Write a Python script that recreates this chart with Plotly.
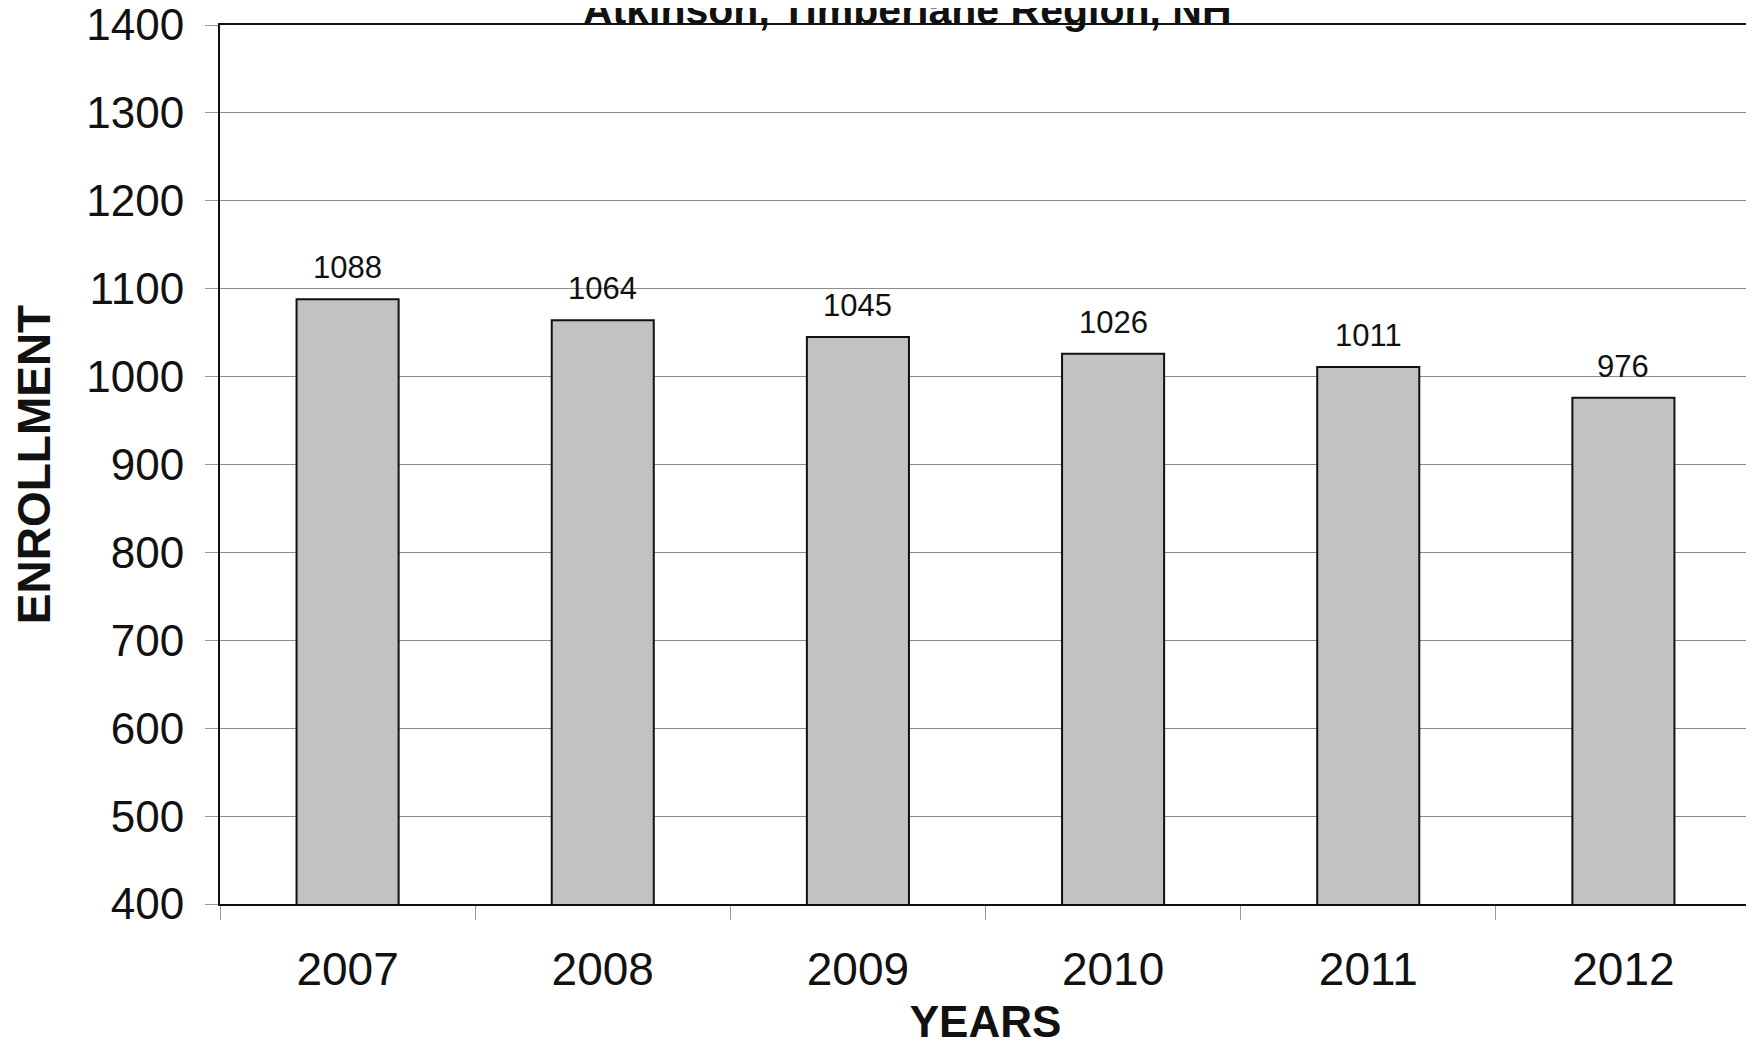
import plotly.graph_objects as go

years = ["2007", "2008", "2009", "2010", "2011", "2012"]
enrollment = [1088, 1064, 1045, 1026, 1011, 976]
y_ticks = [400, 500, 600, 700, 800, 900, 1000, 1100, 1200, 1300, 1400]
title_text = "Atkinson, Timberlane Region, NH"

FONT = "Arial, Liberation Sans, sans-serif"

fig = go.Figure()
fig.add_trace(go.Bar(
    x=years, y=enrollment, width=0.4,
    marker=dict(color="#c2c2c2", line=dict(color="#111111", width=2)),
    hoverinfo="skip",
))

for i, v in enumerate(enrollment):
    fig.add_annotation(x=i, y=v, xref="x", yref="y", text=str(v),
                       showarrow=False, yanchor="bottom", yshift=12,
                       font=dict(family=FONT, size=31, color="#111111"))

fig.add_annotation(x=0.449, y=1, xref="paper", yref="paper",
                   text="<b>" + title_text + "</b>", showarrow=False,
                   xanchor="center", yanchor="bottom", yshift=-10,
                   font=dict(family=FONT, size=41, color="#111111"))

fig.update_layout(
    width=1754, height=1045,
    margin=dict(l=212, r=11, t=17, b=149),
    paper_bgcolor="white", plot_bgcolor="white",
    showlegend=False, bargap=0.6,
    font=dict(family=FONT, color="#111111"),
)
fig.update_xaxes(
    type="category", range=[-0.5, 5.5], automargin=False,
    showline=True, linecolor="#111111", linewidth=2, mirror=True,
    ticks="outside", tickson="boundaries", ticklen=14, tickcolor="#999999", tickwidth=1,
    tickfont=dict(size=46, family=FONT, color="#111111"), ticklabelstandoff=24, tickangle=0,
    ticklabeloverflow="allow",
    showgrid=False,
    title=dict(text="<b>YEARS</b>", font=dict(size=44, family=FONT, color="#111111"), standoff=12),
)
fig.update_yaxes(
    range=[400, 1400], tickvals=y_ticks, automargin=False,
    showline=True, linecolor="#111111", linewidth=2, mirror=True,
    ticks="outside", ticklen=13, tickcolor="#999999", tickwidth=1,
    tickfont=dict(size=44, family=FONT, color="#111111"), ticklabelstandoff=12,
    ticklabeloverflow="allow",
    showgrid=True, gridcolor="#8c8c8c", gridwidth=1, zeroline=False,
    title=dict(text="<b>ENROLLMENT</b>", font=dict(size=46, family=FONT, color="#111111"), standoff=22),
)

fig.write_html("out.html")
